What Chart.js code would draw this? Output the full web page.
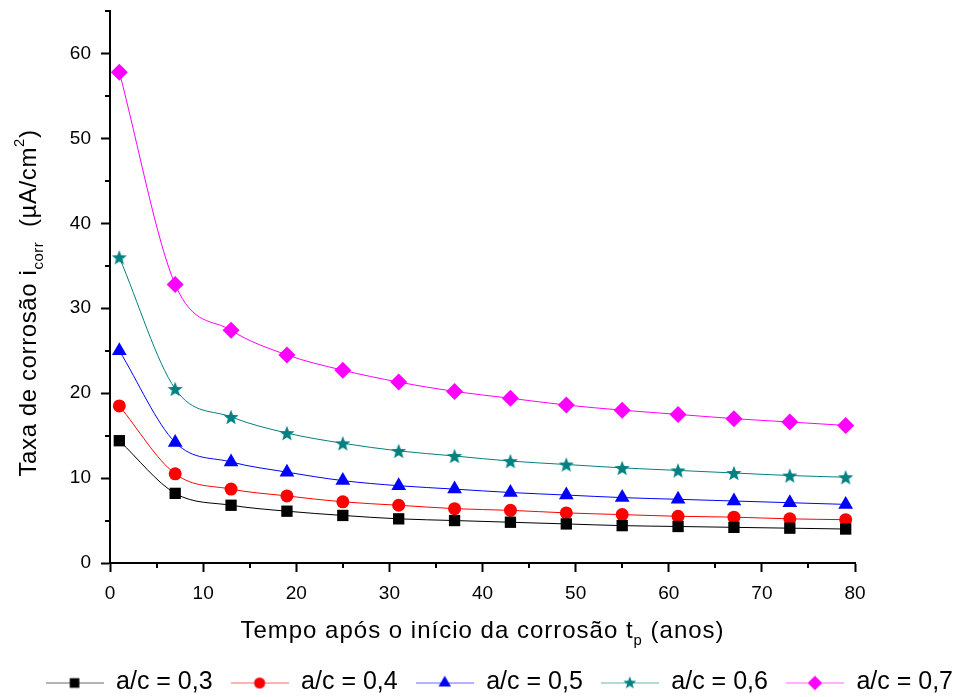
<!DOCTYPE html>
<html>
<head>
<meta charset="utf-8">
<script src="https://cdn.jsdelivr.net/npm/chart.js@4.4.1/dist/chart.umd.min.js"></script>
<style>
  html, body { margin: 0; padding: 0; background: #fff; }
  #wrap { width: 955px; height: 697px; }
</style>
</head>
<body>
<div id="wrap"><canvas id="chart"></canvas></div>
<script>
// data
const years = [1, 7, 13, 19, 25, 31, 37, 43, 49, 55, 61, 67, 73, 79];
const ac03 = [14.4, 8.2, 6.8, 6.1, 5.6, 5.2, 5.0, 4.8, 4.6, 4.4, 4.3, 4.2, 4.1, 4.0];
const ac04 = [18.5, 10.5, 8.7, 7.9, 7.2, 6.8, 6.4, 6.2, 5.9, 5.7, 5.5, 5.4, 5.2, 5.1];
const ac05 = [25.0, 14.2, 11.9, 10.7, 9.7, 9.1, 8.7, 8.3, 8.0, 7.7, 7.5, 7.3, 7.1, 6.9];
const ac06 = [36.0, 20.5, 17.2, 15.3, 14.1, 13.2, 12.6, 12.0, 11.6, 11.2, 10.9, 10.6, 10.3, 10.1];
const ac07 = [57.8, 32.8, 27.4, 24.5, 22.7, 21.3, 20.2, 19.4, 18.6, 18.0, 17.5, 17.0, 16.6, 16.2];

const seriesLabels = ["a/c = 0,3", "a/c = 0,4", "a/c = 0,5", "a/c = 0,6", "a/c = 0,7"];
const seriesValues = [ac03, ac04, ac05, ac06, ac07];
const xTickLabels = [0, 10, 20, 30, 40, 50, 60, 70, 80];
const yTickLabels = [0, 10, 20, 30, 40, 50, 60];

const lineColors = ["#000000", "#ff0000", "#0000ff", "#008080", "#ff00ff"];
const markerStyles = ["rect", "circle", "triangle", "star", "rectRot"];
const markerRadius = [8, 6.5, 8.5, 8, 8.5];

const xTitle = [{ t: "Tempo após o início da corrosão t" }, { t: "p", sub: true }, { t: " (anos)" }];
const yTitle = [{ t: "Taxa de corrosão i" }, { t: "corr", sub: true }, { t: "  (µA/cm" }, { t: "2", sup: true }, { t: ")" }];

const FONT = "'Liberation Sans', Arial, sans-serif";

function drawStar(ctx, cx, cy, r, color) {
    const inner = r * 0.42;
    ctx.fillStyle = color;
    ctx.beginPath();
    for (let k = 0; k < 10; k++) {
        const rad = -Math.PI / 2 + k * Math.PI / 5;
        const rr = k % 2 === 0 ? r : inner;
        const px = cx + Math.cos(rad) * rr;
        const py = cy + Math.sin(rad) * rr;
        if (k === 0) ctx.moveTo(px, py); else ctx.lineTo(px, py);
    }
    ctx.closePath();
    ctx.fill();
}

function drawMarker(ctx, style, x, y, r, color) {
    ctx.fillStyle = color;
    ctx.beginPath();
    if (style === "rect") {
        const s = r * Math.SQRT1_2;
        ctx.rect(x - s, y - s, 2 * s, 2 * s);
    } else if (style === "circle") {
        ctx.arc(x, y, r, 0, Math.PI * 2);
    } else if (style === "triangle") {
        ctx.moveTo(x, y - r);
        ctx.lineTo(x + r * 0.866, y + r * 0.5);
        ctx.lineTo(x - r * 0.866, y + r * 0.5);
        ctx.closePath();
    } else if (style === "rectRot") {
        ctx.moveTo(x, y - r);
        ctx.lineTo(x + r, y);
        ctx.lineTo(x, y + r);
        ctx.lineTo(x - r, y);
        ctx.closePath();
    } else if (style === "star") {
        drawStar(ctx, x, y, r, color);
        return;
    }
    ctx.fill();
}

// star marker as image, chart.js 'star' is not a filled 5-point star
function starImage(r, color) {
    const c = document.createElement("canvas");
    c.width = c.height = Math.ceil(r * 2 + 2);
    drawStar(c.getContext("2d"), c.width / 2, c.height / 2 + 0.8, r, color);
    return c;
}

// legend swatch: short line with the marker in the middle
function legendSwatch(i) {
    const c = document.createElement("canvas");
    c.width = 58;
    c.height = 20;
    const ctx = c.getContext("2d");
    ctx.strokeStyle = lineColors[i];
    ctx.globalAlpha = 0.6;
    ctx.lineWidth = 1;
    ctx.beginPath();
    ctx.moveTo(0, 10.5);
    ctx.lineTo(58, 10.5);
    ctx.stroke();
    ctx.globalAlpha = 1;
    drawMarker(ctx, markerStyles[i], 29, 10.5, markerRadius[i] * 0.85, lineColors[i]);
    return c;
}

const datasets = seriesValues.map((vals, i) => ({
    label: seriesLabels[i],
    data: years.map((x, j) => ({ x: x, y: vals[j] })),
    borderColor: lineColors[i],
    backgroundColor: lineColors[i],
    borderWidth: 1,
    pointStyle: markerStyles[i] === "star" ? starImage(markerRadius[i], lineColors[i]) : markerStyles[i],
    pointRadius: markerRadius[i],
    pointBorderWidth: 0,
    pointHoverRadius: markerRadius[i],
    cubicInterpolationMode: "monotone",
    fill: false
}));

function drawRichText(ctx, parts, size, x, y) {
    let total = 0;
    parts.forEach(p => {
        ctx.font = (p.sub || p.sup ? size * 0.62 : size) + "px " + FONT;
        p.w = ctx.measureText(p.t).width;
        total += p.w;
    });
    let cx = x - total / 2;
    parts.forEach(p => {
        ctx.font = (p.sub || p.sup ? size * 0.62 : size) + "px " + FONT;
        let dy = 0;
        if (p.sub) dy = size * 0.3;
        if (p.sup) dy = -size * 0.5;
        ctx.fillText(p.t, cx, y + dy);
        cx += p.w;
    });
}

const extrasPlugin = {
    id: "extras",
    afterDraw(chart) {
        const ctx = chart.ctx;
        const area = chart.chartArea;
        ctx.save();
        // minor ticks
        ctx.strokeStyle = "#000";
        ctx.lineWidth = 2;
        const xs = chart.scales.x, ys = chart.scales.y;
        xs.ticks.forEach(t => {
            if (t.value % 10 !== 0) {
                const px = Math.round(xs.getPixelForValue(t.value));
                ctx.beginPath();
                ctx.moveTo(px, area.bottom);
                ctx.lineTo(px, area.bottom + 5);
                ctx.stroke();
            }
        });
        ys.ticks.forEach(t => {
            if (t.value % 10 !== 0) {
                const py = Math.round(ys.getPixelForValue(t.value));
                ctx.beginPath();
                ctx.moveTo(area.left, py);
                ctx.lineTo(area.left - 5, py);
                ctx.stroke();
            }
        });
        // axis titles
        ctx.fillStyle = "#000";
        ctx.textBaseline = "alphabetic";
        ctx.textAlign = "left";
        ctx.letterSpacing = "1px";
        drawRichText(ctx, xTitle, 24, (area.left + area.right) / 2, 638);
        ctx.letterSpacing = "0.6px";
        ctx.translate(36, (area.top + area.bottom) / 2 + 16);
        ctx.rotate(-Math.PI / 2);
        drawRichText(ctx, yTitle, 24, 0, 0);
        ctx.restore();
    }
};

const tickColor = c => (c.tick && c.tick.value % 10 === 0 ? "#000" : "rgba(0,0,0,0)");

new Chart(document.getElementById("chart"), {
    type: "line",
    data: { datasets },
    options: {
        responsive: true,
        maintainAspectRatio: false,
        animation: false,
        layout: { padding: { top: 0, right: -16, left: 0, bottom: -8 } },
        plugins: {
            tooltip: { enabled: false },
            legend: {
                position: "bottom",
                align: "end",
                labels: {
                    usePointStyle: true,
                    pointStyleWidth: 58,
                    padding: 18,
                    color: "#000",
                    font: { family: FONT, size: 25 },
                    generateLabels: chart => Chart.defaults.plugins.legend.labels.generateLabels(chart)
                        .map((item, i) => Object.assign(item, { pointStyle: legendSwatch(i) }))
                }
            }
        },
        scales: {
            x: {
                type: "linear",
                min: 0,
                max: 80,
                ticks: {
                    stepSize: 5,
                    autoSkip: false,
                    maxRotation: 0,
                    padding: 10,
                    color: "#000",
                    font: { family: FONT, size: 19 },
                    callback: v => (xTickLabels.includes(v) ? String(v) : "")
                },
                grid: { drawOnChartArea: false, tickLength: 9, tickWidth: 2, tickColor: tickColor },
                border: { color: "#000", width: 2 },
                afterFit: s => { s.height = 89; }
            },
            y: {
                type: "linear",
                min: 0,
                max: 65,
                ticks: {
                    stepSize: 5,
                    autoSkip: false,
                    padding: 10,
                    color: "#000",
                    font: { family: FONT, size: 19 },
                    callback: v => (yTickLabels.includes(v) ? String(v) : "")
                },
                grid: { drawOnChartArea: false, tickLength: 9, tickWidth: 2, tickColor: tickColor },
                border: { color: "#000", width: 2 },
                afterFit: s => { s.width = 110; s.paddingTop = 11; s.paddingBottom = 0; }
            },
            // empty right-hand box so the plot ends at x = 80 while the legend keeps the full width
            spacer: {
                type: "linear",
                position: "right",
                ticks: { display: false },
                grid: { display: false },
                border: { display: false },
                afterFit: s => { s.width = 116; s.paddingTop = 0; s.paddingBottom = 0; }
            }
        }
    },
    plugins: [extrasPlugin]
});
</script>
</body>
</html>
